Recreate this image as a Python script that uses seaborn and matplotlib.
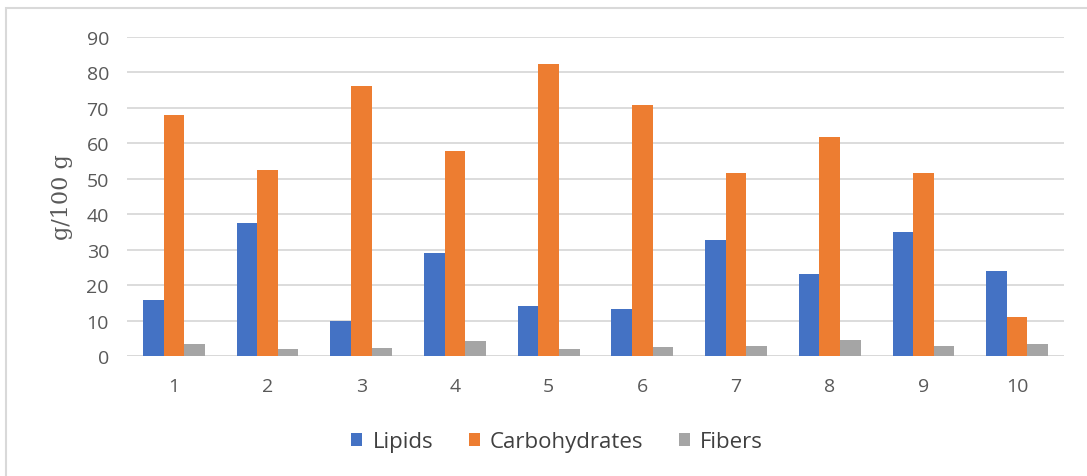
import matplotlib
matplotlib.use("Agg")
import matplotlib.pyplot as plt
import seaborn as sns
import pandas as pd
from matplotlib.patches import Rectangle

categories = ["1", "2", "3", "4", "5", "6", "7", "8", "9", "10"]
lipids = [15.8, 37.6, 10.0, 29.0, 14.1, 13.3, 32.8, 23.1, 35.0, 23.9]
carbohydrates = [68.0, 52.4, 76.3, 57.8, 82.5, 70.9, 51.7, 61.9, 51.7, 11.1]
fibers = [3.4, 2.0, 2.3, 4.1, 2.0, 2.4, 2.7, 4.5, 2.7, 3.5]
series_names = ["Lipids", "Carbohydrates", "Fibers"]
colors = ["#4472C4", "#ED7D31", "#A5A5A5"]
y_label = "g/100 g"

rows = []
for name, vals in zip(series_names, [lipids, carbohydrates, fibers]):
    for c, v in zip(categories, vals):
        rows.append({"cat": c, "series": name, "value": v})
df = pd.DataFrame(rows)

sns.set_theme(style="white")
plt.rcParams['font.family'] = ['Open Sans', 'DejaVu Sans']

fig = plt.figure(figsize=(10.87, 4.77), dpi=100)
ax = fig.add_axes([127/1087, 1-357/477, (1064-127)/1087, (357-38)/477])

sns.barplot(data=df, x="cat", y="value", hue="series", order=categories,
            hue_order=series_names, palette=colors, width=0.66, gap=0,
            saturation=1, ax=ax, errorbar=None, edgecolor="none", linewidth=0)

ax.set_ylim(0, 90)
ax.set_xlim(-0.5, 9.5)
ax.set_yticks(range(0, 91, 10))
ax.yaxis.grid(True, color="#D9D9D9", linewidth=1.3)
ax.set_axisbelow(True)
for s in ax.spines.values():
    s.set_visible(False)
ax.axhline(0, color="#D9D9D9", linewidth=1.3, zorder=0.5)
ax.tick_params(axis="both", length=0, labelsize=14, colors="#595959")
ax.tick_params(axis="x", pad=15)
ax.tick_params(axis="y", pad=13)
ax.set_xlabel("")
ax.set_ylabel(y_label, family=["DejaVu Serif"], fontsize=16,
              color="#595959")
ax.yaxis.set_label_coords(-0.058, 0.5)

leg = ax.legend(loc="center", bbox_to_anchor=(557/1087, 1-443/477), bbox_transform=fig.transFigure,
                ncol=3, frameon=False, fontsize=16, handlelength=0.5, handleheight=0.5,
                handletextpad=0.45, columnspacing=1.6, labelcolor="#404040")

fig.patches.append(Rectangle((6/1087, -0.05), 1.2, 1-9/477+0.05, transform=fig.transFigure,
                             fill=False, edgecolor="#D9D9D9", linewidth=1.5))

fig.savefig("out.png", dpi=100)
